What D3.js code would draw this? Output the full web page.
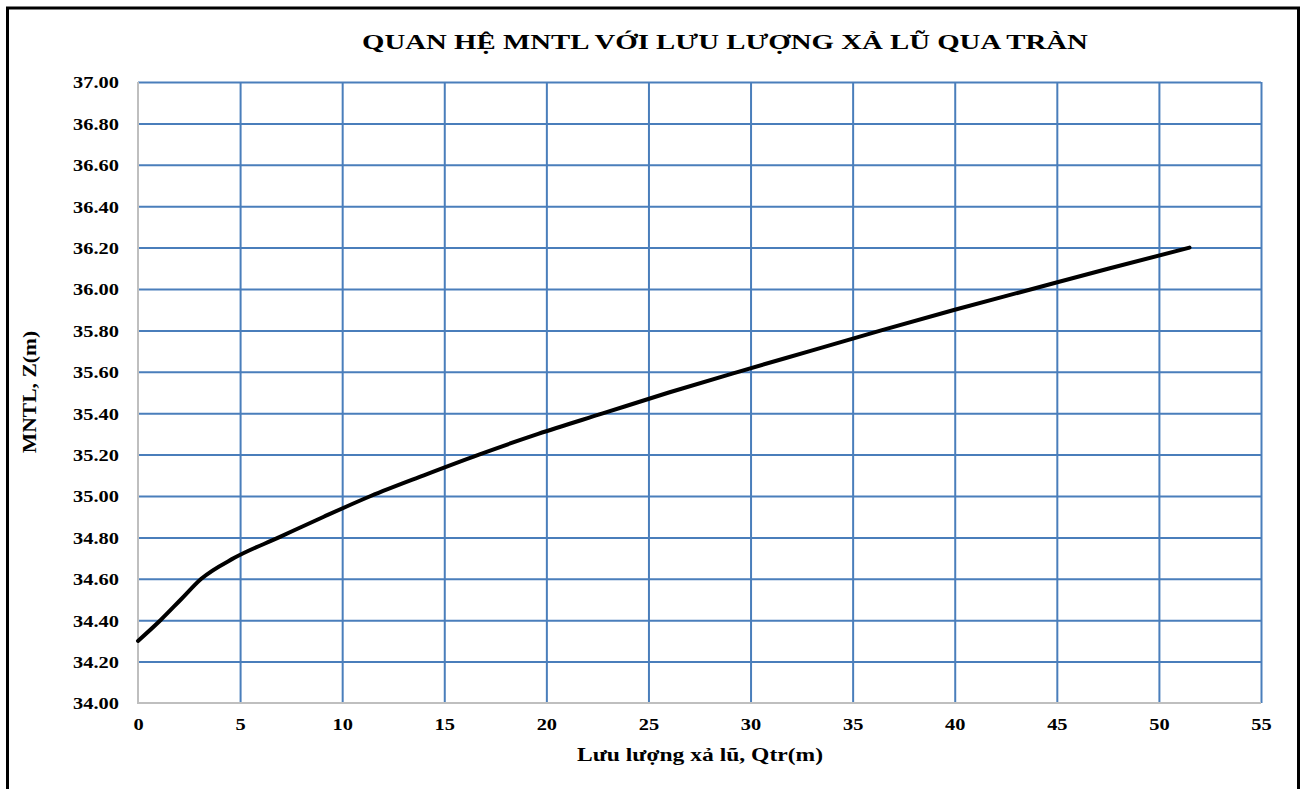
<!DOCTYPE html>
<html><head><meta charset="utf-8">
<script src="https://cdn.jsdelivr.net/npm/d3@7"></script>
<style>body{margin:0;background:#fff;} svg{display:block}</style>
</head><body>
<svg id="c" width="1305" height="789"></svg>
<script>
// Data: water level Z (m) vs spillway discharge Q
const levels    = [34.30, 34.40, 34.50, 34.60, 34.70, 34.80, 34.90, 35.00, 35.10, 35.20, 35.30, 35.40, 35.50, 35.60, 35.70, 35.80, 35.90, 36.00, 36.10, 36.20];
const discharge = [0.0,   1.1,   2.1,   3.1,   4.7,   6.9,   9.1,   11.4,  14.0,  16.7,  19.6,  22.8,  26.0,  29.4,  32.9,  36.4,  40.0,  43.8,  47.6,  51.5];
const xTicks = [0, 5, 10, 15, 20, 25, 30, 35, 40, 45, 50, 55];
const yTicks = [34.00, 34.20, 34.40, 34.60, 34.80, 35.00, 35.20, 35.40, 35.60, 35.80, 36.00, 36.20, 36.40, 36.60, 36.80, 37.00];
const titleText = "QUAN HỆ MNTL VỚI LƯU LƯỢNG XẢ LŨ QUA TRÀN";
const xTitle = "Lưu lượng xả lũ, Qtr(m)";
const yTitle = "MNTL, Z(m)";

const font = "'Liberation Serif','Times New Roman',serif";
const svg = d3.select("#c");
const L = 138, R = 1261, T = 82, B = 703;
const SX = 1.2;

// frame
svg.append("rect").attr("x", 7.5).attr("y", 8).attr("width", 1291).attr("height", 800)
  .attr("fill", "none").attr("stroke", "#000").attr("stroke-width", 3);

const x = d3.scaleLinear().domain([0, 55]).range([L, R]);
const y = d3.scaleLinear().domain([34, 37]).range([B, T]);

// grid
const gx = svg.append("g").attr("transform", `translate(0,${B})`)
  .call(d3.axisBottom(x).tickValues(xTicks.filter(d => d !== 0)).tickSize(-(B - T)).tickFormat(""));
gx.select(".domain").remove();
gx.selectAll("line").attr("stroke", "#4a7ebb").attr("stroke-width", 2);
const gy = svg.append("g").attr("transform", `translate(${L},0)`)
  .call(d3.axisLeft(y).tickValues(yTicks.filter(d => d !== 34)).tickSize(-(R - L)).tickFormat(""));
gy.select(".domain").remove();
gy.selectAll("line").attr("stroke", "#4a7ebb").attr("stroke-width", 2);

// axis lines
svg.append("line").attr("x1", L).attr("x2", L).attr("y1", T).attr("y2", B + 1)
  .attr("stroke", "#bfbfbf").attr("stroke-width", 2);
svg.append("line").attr("x1", L - 1).attr("x2", R).attr("y1", B).attr("y2", B)
  .attr("stroke", "#bfbfbf").attr("stroke-width", 2);

// tick labels
const ax = svg.append("g").attr("transform", `translate(0,${B})`)
  .call(d3.axisBottom(x).tickValues(xTicks).tickSize(0).tickFormat(d3.format("d")));
ax.select(".domain").remove();
ax.selectAll("text").attr("y", 0).attr("dy", 0)
  .attr("transform", `translate(0,27) scale(${SX},1)`)
  .attr("font-family", font).attr("font-weight", "bold").attr("font-size", 17).attr("fill", "#000");

const ay = svg.append("g").attr("transform", `translate(${L},0)`)
  .call(d3.axisLeft(y).tickValues(yTicks).tickSize(0).tickFormat(d3.format(".2f")));
ay.select(".domain").remove();
ay.selectAll("text").attr("x", 0).attr("dy", "0.35em")
  .attr("transform", `translate(-19,0) scale(${SX},1)`)
  .attr("font-family", font).attr("font-weight", "bold").attr("font-size", 17).attr("fill", "#000");

// curve
const pts = discharge.map((q, i) => [q, levels[i]]);
svg.append("path").datum(pts)
  .attr("d", d3.line().x(d => x(d[0])).y(d => y(d[1])).curve(d3.curveMonotoneX))
  .attr("fill", "none").attr("stroke", "#000").attr("stroke-width", 4).attr("stroke-linecap", "round");

// titles
svg.append("text").attr("x", 0).attr("y", 0)
  .attr("transform", `translate(725,49) scale(1.31,1)`)
  .attr("text-anchor", "middle").attr("font-family", font).attr("font-weight", "bold").attr("font-size", 22)
  .text(titleText);
svg.append("text").attr("x", 0).attr("y", 0)
  .attr("transform", `translate(700,761) scale(1.24,1)`)
  .attr("text-anchor", "middle").attr("font-family", font).attr("font-weight", "bold").attr("font-size", 19)
  .text(xTitle);
svg.append("text").attr("x", 0).attr("y", 0)
  .attr("transform", `translate(36,392) rotate(-90) scale(${SX},1)`)
  .attr("text-anchor", "middle").attr("font-family", font).attr("font-weight", "bold").attr("font-size", 18)
  .text(yTitle);
</script>
</body></html>
